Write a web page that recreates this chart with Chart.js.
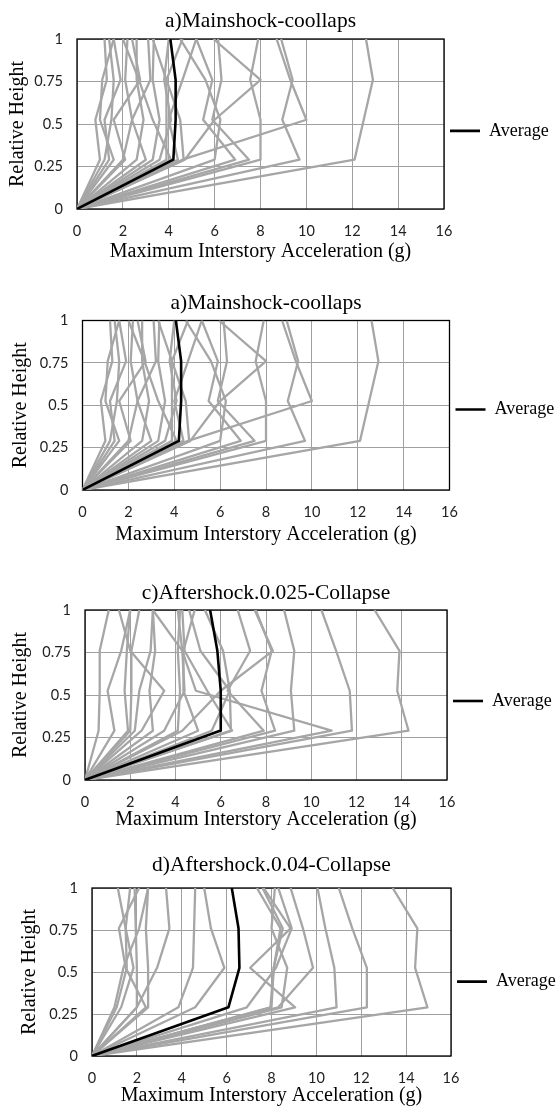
<!DOCTYPE html>
<html>
<head>
<meta charset="utf-8">
<script src="https://cdn.jsdelivr.net/npm/chart.js@4.4.1/dist/chart.umd.min.js"></script>
<style>
  body { margin: 0; background: #fff; width: 558px; height: 1106px; position: relative; overflow: hidden; }
  canvas { position: absolute; left: 0; }
</style>
</head>
<body>
<canvas id="c1" width="558" height="270" style="top:0px"></canvas>
<canvas id="c2" width="558" height="286" style="top:270px"></canvas>
<canvas id="c3" width="558" height="278" style="top:556px"></canvas>
<canvas id="c4" width="558" height="272" style="top:834px"></canvas>
<script>
// relative height of each floor level (y of every point)
const heights = [0, 0.29, 0.525, 0.76, 1];
const xTicks = [0, 2, 4, 6, 8, 10, 12, 14, 16];
const yTicks = [0, 0.25, 0.5, 0.75, 1];

// acceleration (g) per level, one row per record
const mainshockRuns = [
    [0, 12.1, 12.5, 12.9, 12.6],
    [0, 9.7, 8.95, 9.4, 8.9],
    [0, 4.6, 10.0, 9.3, 8.7],
    [0, 8.0, 8.0, 7.55, 7.9],
    [0, 4.7, 6.0, 8.0, 5.95],
    [0, 7.5, 5.9, 6.3, 6.15],
    [0, 6.9, 5.5, 5.9, 5.2],
    [0, 6.0, 6.25, 5.6, 4.5],
    [0, 4.65, 4.5, 3.9, 4.6],
    [0, 4.4, 4.0, 4.6, 5.2],
    [0, 4.1, 3.3, 2.7, 2.0],
    [0, 3.9, 3.9, 3.9, 3.3],
    [0, 3.6, 4.1, 3.8, 4.0],
    [0, 3.3, 3.6, 3.3, 3.35],
    [0, 3.0, 2.4, 3.2, 3.1],
    [0, 2.6, 2.9, 2.6, 2.6],
    [0, 2.1, 1.6, 2.75, 2.4],
    [0, 2.0, 2.4, 2.1, 2.2],
    [0, 1.6, 1.0, 1.1, 1.6],
    [0, 1.4, 1.2, 1.9, 1.6],
    [0, 1.2, 1.5, 1.6, 1.4],
    [0, 1.0, 0.8, 1.3, 1.2]
];
const mainshockAvg = [0, 4.2, 4.3, 4.3, 4.07];

const after025Runs = [
    [0, 14.3, 13.8, 13.9, 12.8],
    [0, 11.8, 11.7, 11.1, 10.45],
    [0, 10.9, 4.9, 4.3, 3.0],
    [0, 9.25, 9.1, 9.25, 8.8],
    [0, 8.4, 7.8, 8.25, 7.55],
    [0, 7.9, 6.3, 7.3, 6.75],
    [0, 4.3, 6.0, 8.3, 7.5],
    [0, 6.45, 6.4, 6.1, 5.3],
    [0, 5.6, 6.4, 5.1, 4.6],
    [0, 6.5, 5.4, 4.4, 4.3],
    [0, 5.0, 4.35, 4.35, 4.85],
    [0, 4.1, 4.2, 4.1, 4.2],
    [0, 3.5, 4.4, 4.3, 4.1],
    [0, 3.0, 2.85, 3.1, 3.0],
    [0, 2.2, 2.4, 2.9, 3.0],
    [0, 2.5, 3.5, 2.0, 1.5],
    [0, 2.0, 2.05, 2.05, 2.4],
    [0, 1.9, 1.75, 1.85, 2.0],
    [0, 1.3, 1.0, 1.6, 2.0],
    [0, 0.6, 0.65, 0.65, 1.05]
];
const after025Avg = [0, 5.97, 6.0, 5.85, 5.53];

const after04Runs = [
    [0, 14.95, 14.4, 14.5, 13.4],
    [0, 12.25, 12.25, 11.6, 11.0],
    [0, 10.9, 10.8, 10.4, 10.05],
    [0, 8.3, 9.85, 9.4, 8.85],
    [0, 9.05, 7.05, 8.85, 7.65],
    [0, 7.95, 8.1, 8.4, 7.35],
    [0, 8.45, 8.7, 8.0, 8.15],
    [0, 8.0, 8.1, 8.5, 7.6],
    [0, 6.9, 8.2, 8.9, 8.3],
    [0, 4.6, 5.9, 5.3, 5.0],
    [0, 3.85, 4.5, 4.55, 4.6],
    [0, 2.0, 2.9, 3.45, 3.3],
    [0, 2.5, 2.5, 2.4, 2.5],
    [0, 2.4, 1.5, 1.2, 2.1],
    [0, 2.0, 2.0, 1.95, 1.9],
    [0, 1.3, 1.85, 1.5, 1.15],
    [0, 1.1, 1.55, 1.5, 1.7],
    [0, 1.0, 1.4, 2.1, 2.5]
];
const after04Avg = [0, 6.08, 6.57, 6.53, 6.23];

const titles = [
    'a)Mainshock-coollaps',
    'a)Mainshock-coollaps',
    'c)Aftershock.0.025-Collapse',
    'd)Aftershock.0.04-Collapse'
];

const SERIF = '"Liberation Serif", "Times New Roman", serif';
const SANS = 'Lato, "Open Sans", sans-serif';

// frame around plot area
const framePlugin = {
    id: 'frame',
    beforeDatasetsDraw(chart) {
        const { ctx, chartArea: a } = chart;
        ctx.save();
        ctx.strokeStyle = '#000';
        ctx.lineWidth = 1.3;
        ctx.strokeRect(a.left, a.top, a.right - a.left, a.bottom - a.top);
        ctx.restore();
    }
};

function toPoints(values) {
    return heights.map((h, i) => ({ x: values[i], y: h }));
}

function drawPanel(id, title, runs, avg, lay) {
    const datasets = [{
        label: 'Average',
        data: toPoints(avg),
        borderColor: '#000',
        backgroundColor: '#000',
        borderWidth: 2.6
    }];
    runs.forEach((r, i) => {
        datasets.push({
            label: 'Record ' + (i + 1),
            data: toPoints(r),
            borderColor: '#a6a6a6',
            backgroundColor: '#a6a6a6',
            borderWidth: 2.3
        });
    });
    datasets.forEach(d => {
        d.showLine = true;
        d.pointRadius = 0;
        d.tension = 0;
        d.borderJoinStyle = 'round';
    });

    new Chart(document.getElementById(id), {
        type: 'scatter',
        data: { datasets },
        options: {
            responsive: false,
            animation: false,
            devicePixelRatio: 1,
            layout: { padding: { top: 0, left: 0, right: 0, bottom: lay.padBottom } },
            plugins: {
                tooltip: { enabled: false },
                title: {
                    display: true,
                    text: title,
                    color: '#000',
                    fullSize: false,
                    font: { family: SERIF, size: 21.5, weight: 'normal', lineHeight: 1.2 },
                    padding: { top: lay.titleTop, bottom: lay.titleBottom }
                },
                legend: {
                    position: 'right',
                    align: 'center',
                    maxWidth: 558 - lay.right,
                    title: {
                        display: lay.legendShift > 0,
                        text: '',
                        font: { size: 2, lineHeight: 1 },
                        padding: { top: lay.legendShift - 1, bottom: lay.legendShift - 1 }
                    },
                    labels: {
                        filter: item => item.text === 'Average',
                        usePointStyle: true,
                        pointStyle: 'line',
                        pointStyleWidth: 30,
                        padding: 6,
                        color: '#000',
                        font: { family: SERIF, size: 18 }
                    }
                }
            },
            scales: {
                x: {
                    type: 'linear',
                    min: xTicks[0],
                    max: xTicks[xTicks.length - 1],
                    afterFit: scale => { scale.height = lay.xAxisH; },
                    ticks: {
                        stepSize: xTicks[1] - xTicks[0],
                        padding: 14.75,
                        color: '#222',
                        font: { family: SANS, size: 14.5, lineHeight: 1 }
                    },
                    grid: { color: '#a0a0a0', lineWidth: 1, drawTicks: false },
                    border: { display: false },
                    title: {
                        display: true,
                        text: 'Maximum Interstory Acceleration (g)',
                        color: '#000',
                        font: { family: SERIF, size: 20, lineHeight: 1 },
                        padding: { top: 0, bottom: 0 }
                    }
                },
                y: {
                    type: 'linear',
                    min: yTicks[0],
                    max: yTicks[yTicks.length - 1],
                    afterFit: scale => { scale.width = lay.left; },
                    afterBuildTicks: scale => { scale.ticks = yTicks.map(v => ({ value: v })); },
                    ticks: {
                        padding: 14,
                        color: '#222',
                        font: { family: SANS, size: 14.5 },
                        callback: v => String(v)
                    },
                    grid: { color: '#a0a0a0', lineWidth: 1, drawTicks: false },
                    border: { display: false },
                    title: {
                        display: true,
                        text: 'Relative Height',
                        color: '#000',
                        font: { family: SERIF, size: 20, lineHeight: 1 },
                        padding: { top: lay.yTitleTop, bottom: 0 }
                    }
                }
            }
        },
        plugins: [framePlugin]
    });
}

drawPanel('c1', titles[0], mainshockRuns, mainshockAvg,
    { left: 77, right: 444, titleTop: 8.8, titleBottom: 4.4, xAxisH: 52.75, padBottom: 8.25, yTitleTop: 8, legendShift: 0 });
drawPanel('c2', titles[1], mainshockRuns, mainshockAvg,
    { left: 82.5, right: 449.5, titleTop: 20.1, titleBottom: 4.6, xAxisH: 55, padBottom: 11, yTitleTop: 11, legendShift: 2 });
drawPanel('c3', titles[2], after025Runs, after025Avg,
    { left: 85, right: 447, titleTop: 24.1, titleBottom: 4.1, xAxisH: 50, padBottom: 4, yTitleTop: 11, legendShift: 8 });
drawPanel('c4', titles[3], after04Runs, after04Avg,
    { left: 92, right: 451, titleTop: 18.1, titleBottom: 10.1, xAxisH: 49.25, padBottom: 0.75, yTitleTop: 20, legendShift: 12 });
</script>
</body>
</html>
